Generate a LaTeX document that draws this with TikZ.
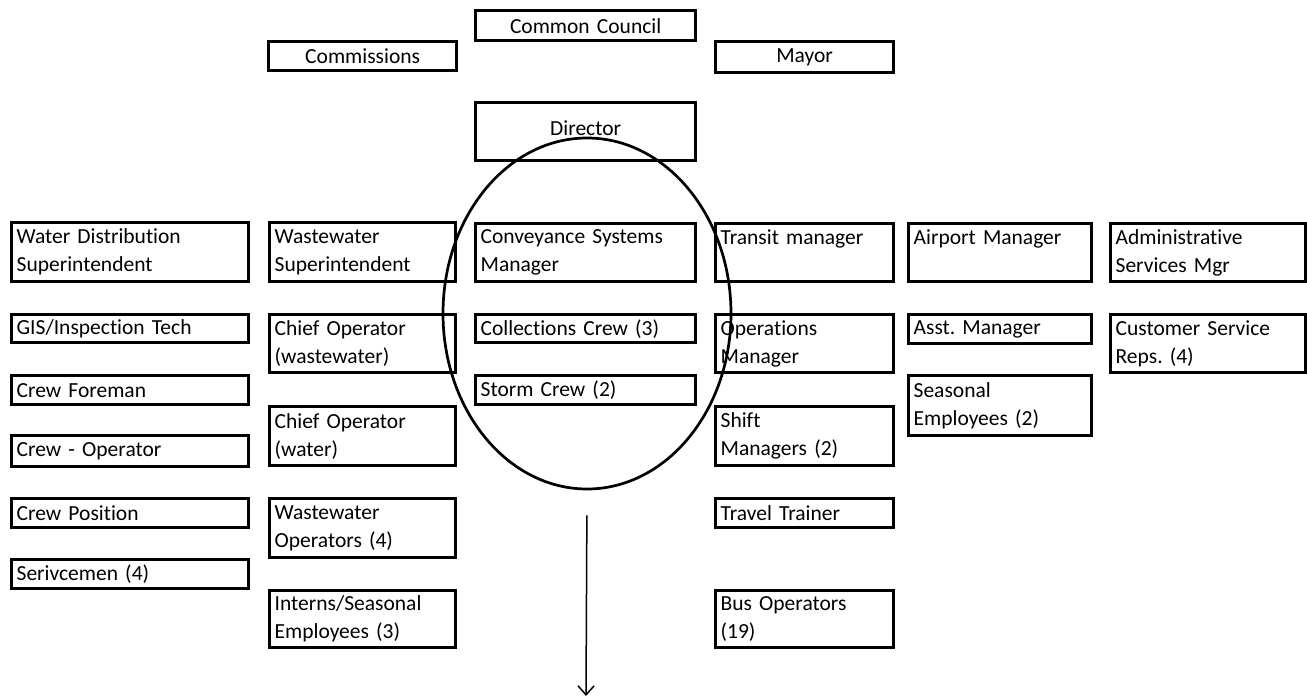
\documentclass[tikz,border=0pt]{standalone}
\usepackage{fontspec}
\setmainfont{Carlito}[Ligatures=CommonOff]
\usetikzlibrary{arrows.meta,shapes.geometric}
\frenchspacing

\begin{document}
\begin{tikzpicture}[
  x=1pt,y=-1pt,
  every node/.style={font=\fontsize{21.5}{28}\selectfont},
  unit/.style={draw,line width=3.3pt,anchor=north west,inner xsep=5pt,inner ysep=0pt,align=left,text width=#1},
  head/.style={unit=#1,align=center},
]
  \useasboundingbox (0,0) rectangle (1307,698);

  \node[head=210pt,minimum height=30pt] (council) at (474,9) {Common Council};
  \node[head=178pt,minimum height=29pt] (comm) at (267,40) {Commissions};
  \node[head=168pt,minimum height=31pt] (mayor) at (714,40) {Mayor};
  \node[head=210pt,minimum height=58pt] (director) at (474,101) {\raisebox{8pt}{Director}};

  \node[unit=227pt,minimum height=59pt] (wds) at (10,221) {Water Distribution\\Superintendent};
  \node[unit=227pt,minimum height=28pt] (gis) at (10,313) {GIS/Inspection Tech};
  \node[unit=227pt,minimum height=29pt] (foreman) at (10,374) {Crew Foreman};
  \node[unit=227pt,minimum height=31pt] (crewop) at (10,434) {Crew - Operator};
  \node[unit=227pt,minimum height=29pt] (crewpos) at (10,497) {Crew Position};
  \node[unit=227pt,minimum height=29pt] (servicemen) at (10,558) {Serivcemen (4)};

  \node[unit=176pt,minimum height=59pt] (wws) at (268,221) {Wastewater\\Superintendent};
  \node[unit=176pt,minimum height=58pt] (cow) at (268,313) {Chief Operator\\(wastewater)};
  \node[unit=176pt,minimum height=59pt] (cowater) at (268,405) {Chief Operator\\(water)};
  \node[unit=176pt,minimum height=59pt] (wwo) at (268,497) {Wastewater\\Operators (4)};
  \node[unit=176pt,minimum height=57pt] (interns) at (268,589) {Interns/Seasonal\\Employees (3)};

  \node[unit=210pt,minimum height=58pt] (csm) at (474,222) {Conveyance Systems\\Manager};
  \node[unit=210pt,minimum height=28pt] (collect) at (474,313) {Collections Crew (3)};
  \node[unit=210pt,minimum height=29pt] (storm) at (474,374) {Storm Crew (2)};

  \node[unit=168pt,minimum height=58pt] (transit) at (714,222) {Transit manager\\\mbox{\vphantom{p}}};
  \node[unit=168pt,minimum height=58pt] (opsmgr) at (714,313) {Operations\\Manager};
  \node[unit=168pt,minimum height=59pt] (shift) at (714,405) {Shift\\Managers (2)};
  \node[unit=168pt,minimum height=29pt] (trainer) at (714,497) {Travel Trainer};
  \node[unit=168pt,minimum height=57pt] (bus) at (714,589) {Bus Operators\\(19)};

  \node[unit=173pt,minimum height=58pt] (airport) at (907,222) {Airport Manager\\\mbox{\vphantom{p}}};
  \node[unit=173pt,minimum height=29pt] (asst) at (907,313) {Asst. Manager};
  \node[unit=173pt,minimum height=60pt] (seasonal) at (907,374) {Seasonal\\Employees (2)};

  \node[unit=185pt,minimum height=58pt] (admin) at (1109,222) {Administrative\\Services Mgr};
  \node[unit=185pt,minimum height=58pt] (csr) at (1109,313) {Customer Service\\Reps. (4)};

  \node[ellipse,draw,line width=2.7pt,minimum width=288pt,minimum height=351pt,inner sep=0pt] (focus) at (587,313.5) {};
  \coordinate (down) at (586,696);
  \draw[line width=1.5pt,-{Straight Barb[length=9pt,width=16pt]},shorten <=25pt] (focus.south) -- (down);
\end{tikzpicture}
\end{document}
